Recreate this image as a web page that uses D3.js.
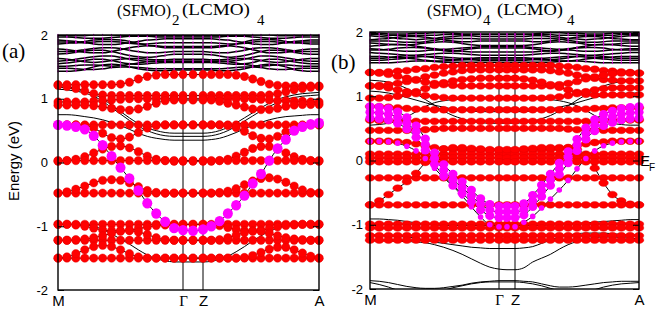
<!DOCTYPE html>
<html>
<head>
<meta charset="utf-8">
<script src="https://d3js.org/d3.v7.min.js"></script>
<style>
  body { margin: 0; background: #fff; }
  svg { display: block; }
</style>
</head>
<body>
<svg id="chart" width="667" height="314"></svg>
<script>
// k-point index along the path M -> Γ (14 steps) -> Z (2 steps) -> A (14 steps)
var kTickIdx = [0, 14, 16, 30];
var kTickLabels = ["M", "\u0393", "Z", "A"];
var eTicks = [2, 1, 0, -1, -2];

// ---------- panel (a): (SFMO)2(LCMO)4 ----------
var aTopBands = [
  [2.0,1.99,1.99,1.99,2.0,2.0,2.0,1.99,1.99,1.99, 1.99,1.99,1.99,1.99,1.99,1.99,1.99,1.99,1.99,1.99, 1.99,1.99,2.0,2.0,2.0,1.99,1.99,1.99,1.99,2.0,2.0],
  [1.97,1.97,1.96,1.95,1.95,1.95,1.96,1.97,1.98,1.98, 1.98,1.97,1.97,1.97,1.97,1.97,1.97,1.97,1.97,1.98, 1.98,1.98,1.97,1.96,1.95,1.95,1.95,1.96,1.97,1.97,1.97],
  [1.92,1.91,1.9,1.88,1.86,1.85,1.85,1.86,1.88,1.9, 1.92,1.93,1.94,1.94,1.94,1.94,1.94,1.94,1.93,1.92, 1.9,1.88,1.86,1.85,1.85,1.86,1.88,1.9,1.91,1.92,1.92],
  [1.89,1.89,1.88,1.88,1.89,1.9,1.9,1.89,1.87,1.86, 1.86,1.87,1.88,1.88,1.88,1.88,1.88,1.88,1.87,1.86, 1.86,1.87,1.89,1.9,1.9,1.89,1.88,1.88,1.89,1.89,1.89],
  [1.86,1.87,1.88,1.9,1.92,1.93,1.93,1.92,1.9,1.87, 1.84,1.82,1.8,1.8,1.8,1.8,1.8,1.8,1.81,1.83, 1.86,1.89,1.92,1.93,1.93,1.92,1.9,1.88,1.87,1.86,1.86],
  [1.78,1.77,1.75,1.73,1.72,1.72,1.74,1.77,1.8,1.82, 1.83,1.83,1.82,1.82,1.82,1.82,1.82,1.82,1.83,1.83, 1.82,1.8,1.77,1.74,1.72,1.72,1.73,1.75,1.77,1.78,1.78],
  [1.74,1.74,1.75,1.77,1.79,1.8,1.8,1.79,1.76,1.74, 1.72,1.72,1.73,1.74,1.74,1.74,1.74,1.73,1.72,1.72, 1.74,1.76,1.79,1.8,1.8,1.79,1.77,1.75,1.74,1.74,1.74],
  [1.7,1.71,1.73,1.75,1.76,1.76,1.74,1.71,1.68,1.66, 1.65,1.66,1.68,1.7,1.7,1.7,1.7,1.69,1.67,1.65, 1.66,1.68,1.71,1.74,1.76,1.76,1.75,1.73,1.71,1.7,1.7],
  [1.63,1.62,1.6,1.58,1.57,1.58,1.6,1.62,1.63,1.63, 1.62,1.61,1.61,1.62,1.62,1.62,1.62,1.61,1.61,1.62, 1.63,1.63,1.62,1.6,1.58,1.57,1.58,1.6,1.62,1.63,1.63],
  [1.59,1.6,1.62,1.64,1.66,1.67,1.67,1.65,1.62,1.6, 1.59,1.59,1.59,1.59,1.59,1.59,1.59,1.59,1.59,1.59, 1.6,1.62,1.65,1.67,1.67,1.66,1.64,1.62,1.6,1.59,1.59],
  [1.55,1.56,1.58,1.6,1.62,1.62,1.6,1.57,1.55,1.54, 1.55,1.56,1.57,1.57,1.57,1.57,1.57,1.57,1.56,1.55, 1.54,1.55,1.57,1.6,1.62,1.62,1.6,1.58,1.56,1.55,1.55],
  [1.51,1.51,1.52,1.53,1.53,1.52,1.51,1.52,1.54,1.56, 1.58,1.59,1.59,1.59,1.59,1.59,1.59,1.59,1.59,1.58, 1.56,1.54,1.52,1.51,1.52,1.53,1.53,1.52,1.51,1.51,1.51],
  [1.48,1.48,1.47,1.46,1.46,1.47,1.49,1.5,1.5,1.49, 1.48,1.47,1.47,1.47,1.47,1.47,1.47,1.47,1.47,1.48, 1.49,1.5,1.5,1.49,1.47,1.46,1.46,1.47,1.48,1.48,1.48],
  [1.43,1.43,1.44,1.46,1.5,1.53,1.54,1.53,1.5,1.47, 1.45,1.44,1.44,1.45,1.45,1.45,1.45,1.45,1.44,1.44, 1.45,1.47,1.5,1.53,1.54,1.53,1.5,1.46,1.44,1.43,1.43]
];
var aLineBands = [
  [1.18,1.17,1.15,1.12,1.07,1.0,0.9,0.8,0.7,0.61, 0.54,0.5,0.47,0.46,0.46,0.46,0.46,0.47,0.5,0.55, 0.62,0.7,0.78,0.86,0.93,0.99,1.03,1.06,1.08,1.09,1.1],
  [1.15,1.14,1.12,1.09,1.04,0.96,0.86,0.76,0.66,0.57, 0.5,0.45,0.42,0.41,0.41,0.41,0.41,0.42,0.45,0.5, 0.57,0.65,0.73,0.81,0.88,0.94,0.99,1.02,1.04,1.05,1.06],
  [0.75,0.75,0.74,0.72,0.7,0.67,0.63,0.58,0.52,0.46, 0.41,0.38,0.36,0.35,0.35,0.35,0.35,0.36,0.38,0.42, 0.47,0.53,0.58,0.63,0.67,0.7,0.72,0.73,0.74,0.75,0.75],
  [-0.97,-0.97,-0.97,-0.98,-1.0,-1.05,-1.12,-1.2,-1.28,-1.37, -1.45,-1.51,-1.54,-1.56,-1.56,-1.56,-1.56,-1.55,-1.52,-1.47, -1.4,-1.32,-1.23,-1.15,-1.08,-1.03,-1.0,-0.98,-0.98,-0.98,-0.98]
];
var aRedBands = [
  [1.22,1.22,1.22,1.22,1.22,1.22,1.22,1.23,1.26,1.31, 1.35,1.37,1.38,1.38,1.38,1.38,1.38,1.38,1.38,1.38, 1.37,1.35,1.31,1.27,1.23,1.21,1.2,1.2,1.2,1.2,1.2],
  [1.21,1.19,1.16,1.12,1.08,1.06,1.05,1.05,1.05,1.05, 1.05,1.05,1.05,1.05,1.05,1.05,1.05,1.05,1.05,1.05, 1.05,1.05,1.05,1.05,1.06,1.08,1.11,1.14,1.16,1.18,1.19],
  [0.95,0.95,0.95,0.95,0.96,0.97,0.98,0.99,1.0,1.0, 1.0,1.0,1.0,1.0,1.0,1.0,1.0,1.0,1.0,1.0, 1.0,1.0,1.0,0.99,0.98,0.97,0.97,0.96,0.96,0.95,0.95],
  [0.9,0.9,0.9,0.9,0.89,0.87,0.85,0.83,0.82,0.84, 0.88,0.93,0.97,0.98,0.98,0.98,0.98,0.98,0.96,0.93, 0.9,0.87,0.84,0.83,0.83,0.85,0.88,0.9,0.91,0.91,0.91],
  [0.59,0.59,0.59,0.59,0.59,0.59,0.59,0.59,0.59,0.59, 0.59,0.59,0.59,0.59,0.59,0.59,0.59,0.59,0.59,0.59, 0.59,0.59,0.59,0.59,0.59,0.59,0.59,0.59,0.59,0.59,0.59],
  [0.59,0.59,0.59,0.58,0.54,0.46,0.39,0.37,0.4,0.47, 0.54,0.58,0.59,0.59,0.59,0.59,0.59,0.59,0.59,0.58, 0.55,0.49,0.42,0.38,0.37,0.41,0.48,0.55,0.58,0.59,0.59],
  [0.02,0.03,0.05,0.09,0.15,0.21,0.25,0.26,0.23,0.17, 0.1,0.05,0.03,0.02,0.02,0.02,0.02,0.02,0.03,0.05, 0.1,0.16,0.22,0.25,0.25,0.21,0.15,0.09,0.05,0.03,0.02],
  [0.03,0.03,0.03,0.03,0.03,0.03,0.03,0.03,0.03,0.03, 0.03,0.03,0.03,0.03,0.03,0.03,0.03,0.03,0.03,0.03, 0.03,0.03,0.03,0.03,0.03,0.03,0.03,0.03,0.03,0.03,0.03],
  [-0.48,-0.48,-0.48,-0.48,-0.48,-0.48,-0.48,-0.48,-0.48,-0.48, -0.48,-0.48,-0.48,-0.48,-0.48,-0.48,-0.48,-0.48,-0.48,-0.48, -0.48,-0.48,-0.48,-0.48,-0.48,-0.48,-0.48,-0.48,-0.48,-0.48,-0.48],
  [-0.48,-0.46,-0.42,-0.37,-0.32,-0.28,-0.27,-0.28,-0.32,-0.38, -0.44,-0.47,-0.48,-0.48,-0.48,-0.48,-0.48,-0.48,-0.47,-0.45, -0.41,-0.35,-0.29,-0.25,-0.24,-0.26,-0.31,-0.37,-0.43,-0.47,-0.48],
  [-0.97,-0.97,-0.97,-0.97,-0.97,-0.97,-0.97,-0.97,-0.97,-0.97, -0.97,-0.97,-0.97,-0.97,-0.97,-0.97,-0.97,-0.97,-0.97,-0.97, -0.97,-0.97,-0.97,-0.97,-0.97,-0.97,-0.97,-0.97,-0.97,-0.97,-0.97],
  [-0.97,-0.97,-0.98,-1.0,-1.03,-1.06,-1.07,-1.07,-1.06,-1.04, -1.01,-0.99,-0.98,-0.97,-0.97,-0.97,-0.97,-0.98,-0.99,-1.02, -1.05,-1.07,-1.07,-1.06,-1.04,-1.01,-0.99,-0.98,-0.97,-0.97,-0.97],
  [-1.22,-1.22,-1.22,-1.22,-1.22,-1.22,-1.22,-1.22,-1.22,-1.22, -1.22,-1.22,-1.22,-1.22,-1.22,-1.22,-1.22,-1.22,-1.22,-1.22, -1.22,-1.22,-1.22,-1.22,-1.22,-1.22,-1.22,-1.22,-1.22,-1.22,-1.22],
  [-1.22,-1.22,-1.21,-1.2,-1.18,-1.15,-1.11,-1.08,-1.07,-1.09, -1.13,-1.18,-1.21,-1.22,-1.22,-1.22,-1.22,-1.22,-1.21,-1.18, -1.14,-1.1,-1.08,-1.08,-1.11,-1.15,-1.18,-1.2,-1.21,-1.22,-1.22],
  [-1.5,-1.5,-1.5,-1.5,-1.5,-1.5,-1.5,-1.5,-1.5,-1.5, -1.5,-1.5,-1.5,-1.5,-1.5,-1.5,-1.5,-1.5,-1.5,-1.5, -1.5,-1.5,-1.5,-1.5,-1.5,-1.5,-1.5,-1.5,-1.5,-1.5,-1.5],
  [-1.5,-1.48,-1.43,-1.37,-1.32,-1.3,-1.32,-1.37,-1.43,-1.48, -1.5,-1.5,-1.5,-1.5,-1.5,-1.5,-1.5,-1.5,-1.5,-1.5, -1.5,-1.49,-1.46,-1.41,-1.36,-1.33,-1.33,-1.37,-1.42,-1.47,-1.5]
];
var aMagBands = [
  [0.59,0.58,0.56,0.52,0.42,0.27,0.1,-0.08,-0.25,-0.44, -0.64,-0.8,-0.93,-1.03,-1.06,-1.07,-1.05,-1.0,-0.92,-0.8, -0.67,-0.52,-0.33,-0.18,0.03,0.22,0.36,0.5,0.56,0.6,0.62]
];
var aMagThinBands = [];

// ---------- panel (b): (SFMO)4(LCMO)4 ----------
var bTopBands = [
  [1.98,1.98,1.97,1.97,1.97,1.98,1.98,1.99,1.99,1.98, 1.97,1.97,1.97,1.97,1.97,1.97,1.97,1.97,1.97,1.98, 1.99,1.99,1.98,1.98,1.97,1.97,1.97,1.98,1.98,1.98,1.98],
  [1.96,1.96,1.95,1.95,1.95,1.95,1.95,1.95,1.96,1.96, 1.96,1.96,1.96,1.96,1.96,1.96,1.96,1.96,1.96,1.96, 1.96,1.95,1.95,1.95,1.95,1.95,1.95,1.95,1.96,1.96,1.96],
  [1.94,1.93,1.92,1.9,1.89,1.88,1.89,1.9,1.92,1.93, 1.94,1.94,1.93,1.93,1.93,1.93,1.93,1.93,1.94,1.94, 1.93,1.92,1.9,1.89,1.88,1.89,1.9,1.92,1.93,1.94,1.94],
  [1.88,1.89,1.9,1.92,1.93,1.93,1.92,1.9,1.88,1.86, 1.85,1.85,1.86,1.86,1.86,1.86,1.86,1.86,1.85,1.85, 1.86,1.88,1.9,1.92,1.93,1.93,1.92,1.9,1.89,1.88,1.88],
  [1.86,1.86,1.86,1.85,1.84,1.84,1.85,1.87,1.89,1.9, 1.9,1.9,1.89,1.89,1.89,1.89,1.89,1.89,1.9,1.9, 1.9,1.89,1.87,1.85,1.84,1.84,1.85,1.86,1.86,1.86,1.86],
  [1.83,1.82,1.81,1.8,1.8,1.81,1.83,1.84,1.85,1.84, 1.82,1.8,1.79,1.79,1.79,1.79,1.79,1.79,1.8,1.82, 1.84,1.85,1.84,1.83,1.81,1.8,1.8,1.81,1.82,1.83,1.83],
  [1.78,1.79,1.8,1.81,1.8,1.78,1.76,1.74,1.73,1.74, 1.75,1.76,1.77,1.77,1.77,1.77,1.77,1.77,1.76,1.75, 1.74,1.73,1.74,1.76,1.78,1.8,1.81,1.8,1.79,1.78,1.78],
  [1.74,1.73,1.72,1.71,1.7,1.7,1.71,1.72,1.72,1.71, 1.7,1.69,1.69,1.69,1.69,1.69,1.69,1.69,1.69,1.7, 1.71,1.72,1.72,1.71,1.7,1.7,1.71,1.72,1.73,1.74,1.74],
  [1.72,1.72,1.73,1.75,1.76,1.76,1.75,1.73,1.71,1.7, 1.72,1.74,1.75,1.75,1.75,1.75,1.75,1.75,1.74,1.72, 1.7,1.71,1.73,1.75,1.76,1.76,1.75,1.73,1.72,1.72,1.72],
  [1.68,1.67,1.66,1.65,1.64,1.64,1.65,1.66,1.67,1.67, 1.66,1.65,1.64,1.64,1.64,1.64,1.64,1.64,1.65,1.66, 1.67,1.67,1.66,1.65,1.64,1.64,1.65,1.66,1.67,1.68,1.68],
  [1.62,1.62,1.61,1.6,1.6,1.61,1.62,1.62,1.61,1.6, 1.59,1.59,1.6,1.6,1.6,1.6,1.6,1.6,1.59,1.59, 1.6,1.61,1.62,1.62,1.61,1.6,1.6,1.61,1.62,1.62,1.62],
  [1.59,1.59,1.6,1.62,1.63,1.63,1.62,1.6,1.58,1.57, 1.57,1.58,1.58,1.58,1.58,1.58,1.58,1.58,1.58,1.57, 1.57,1.58,1.6,1.62,1.63,1.63,1.62,1.6,1.59,1.59,1.59],
  [1.56,1.56,1.57,1.58,1.59,1.58,1.56,1.55,1.55,1.56, 1.57,1.57,1.56,1.56,1.56,1.56,1.56,1.56,1.57,1.57, 1.56,1.55,1.55,1.56,1.58,1.59,1.58,1.57,1.56,1.56,1.56],
  [1.52,1.52,1.52,1.53,1.54,1.55,1.55,1.54,1.53,1.53, 1.53,1.53,1.53,1.53,1.53,1.53,1.53,1.53,1.53,1.53, 1.53,1.54,1.55,1.55,1.54,1.53,1.52,1.52,1.52,1.52,1.52]
];
var bLineBands = [
  [1.25,1.24,1.22,1.18,1.12,1.04,0.95,0.86,0.77,0.7, 0.65,0.61,0.59,0.58,0.58,0.58,0.58,0.59,0.61,0.65, 0.7,0.77,0.85,0.94,1.02,1.1,1.16,1.2,1.23,1.24,1.25],
  [1.08,1.07,1.05,1.02,0.98,0.94,0.9,0.86,0.83,0.8, 0.78,0.77,0.76,0.76,0.76,0.76,0.76,0.76,0.77,0.78, 0.8,0.83,0.86,0.9,0.94,0.98,1.01,1.03,1.04,1.05,1.05],
  [0.55,0.56,0.58,0.62,0.68,0.76,0.84,0.9,0.93,0.95, 0.96,0.97,0.97,0.97,0.97,0.97,0.97,0.97,0.97,0.96, 0.95,0.93,0.9,0.85,0.78,0.7,0.63,0.58,0.56,0.55,0.55],
  [-0.91,-0.91,-0.92,-0.93,-0.95,-0.97,-0.99,-1.0,-1.01,-1.01, -1.01,-1.01,-1.01,-1.01,-1.01,-1.01,-1.01,-1.01,-1.01,-1.01, -1.0,-1.0,-0.99,-0.98,-0.97,-0.96,-0.95,-0.94,-0.93,-0.92,-0.92],
  [-1.16,-1.16,-1.17,-1.18,-1.19,-1.21,-1.24,-1.27,-1.29,-1.31, -1.33,-1.35,-1.36,-1.37,-1.37,-1.37,-1.37,-1.36,-1.34,-1.29, -1.24,-1.19,-1.16,-1.14,-1.13,-1.13,-1.13,-1.14,-1.15,-1.16,-1.16],
  [-1.25,-1.25,-1.25,-1.26,-1.26,-1.27,-1.28,-1.31,-1.35,-1.4, -1.46,-1.53,-1.6,-1.66,-1.69,-1.7,-1.7,-1.67,-1.58,-1.52, -1.46,-1.38,-1.31,-1.26,-1.22,-1.2,-1.19,-1.19,-1.2,-1.21,-1.22],
  [-1.87,-1.88,-1.9,-1.93,-1.96,-1.98,-1.99,-1.99,-1.98,-1.96, -1.94,-1.91,-1.89,-1.88,-1.87,-1.87,-1.87,-1.88,-1.89,-1.92, -1.95,-1.97,-1.97,-1.96,-1.94,-1.92,-1.9,-1.89,-1.88,-1.88,-1.88],
  [-1.9,-1.93,-1.97,-2.02,-2.06,-2.08,-2.08,-2.06,-2.02,-1.98, -1.95,-1.92,-1.9,-1.89,-1.89,-1.89,-1.89,-1.9,-1.92,-1.95, -1.99,-2.03,-2.06,-2.07,-2.05,-2.01,-1.97,-1.94,-1.92,-1.91,-1.9]
];
var bRedBands = [
  [1.37,1.37,1.38,1.39,1.4,1.42,1.43,1.45,1.46,1.47, 1.48,1.48,1.48,1.48,1.48,1.48,1.48,1.48,1.48,1.48, 1.48,1.47,1.46,1.45,1.43,1.42,1.4,1.39,1.38,1.37,1.36],
  [1.16,1.17,1.18,1.2,1.23,1.26,1.3,1.33,1.36,1.38, 1.4,1.41,1.41,1.41,1.41,1.41,1.41,1.41,1.41,1.41, 1.4,1.38,1.36,1.33,1.3,1.28,1.26,1.25,1.24,1.24,1.24],
  [1.37,1.36,1.34,1.31,1.28,1.25,1.22,1.2,1.18,1.17, 1.16,1.16,1.16,1.16,1.16,1.16,1.16,1.16,1.16,1.16, 1.16,1.18,1.2,1.23,1.27,1.3,1.33,1.35,1.36,1.36,1.36],
  [0.97,0.97,0.98,1.0,1.03,1.07,1.12,1.17,1.21,1.24, 1.26,1.27,1.28,1.28,1.28,1.28,1.28,1.27,1.25,1.22, 1.18,1.14,1.1,1.06,1.03,1.02,1.02,1.02,1.02,1.02,1.02],
  [1.16,1.15,1.13,1.1,1.07,1.04,1.01,0.99,0.98,0.97, 0.97,0.97,0.97,0.97,0.97,0.97,0.97,0.97,0.97,0.97, 0.98,0.99,1.01,1.04,1.07,1.1,1.12,1.13,1.13,1.13,1.13],
  [0.84,0.84,0.83,0.82,0.81,0.8,0.8,0.79,0.79,0.79, 0.79,0.79,0.79,0.79,0.79,0.79,0.79,0.79,0.79,0.79, 0.79,0.79,0.79,0.8,0.8,0.81,0.81,0.82,0.82,0.82,0.82],
  [0.63,0.62,0.62,0.61,0.61,0.61,0.61,0.61,0.61,0.61, 0.61,0.61,0.61,0.61,0.61,0.61,0.61,0.61,0.61,0.61, 0.61,0.61,0.61,0.61,0.61,0.61,0.62,0.62,0.63,0.63,0.63],
  [0.47,0.47,0.47,0.47,0.47,0.48,0.48,0.49,0.5,0.5, 0.5,0.5,0.5,0.5,0.5,0.5,0.5,0.5,0.5,0.5, 0.5,0.5,0.49,0.48,0.48,0.47,0.47,0.47,0.47,0.47,0.47],
  [0.3,0.3,0.3,0.29,0.28,0.26,0.23,0.2,0.18,0.17, 0.16,0.16,0.16,0.16,0.16,0.16,0.16,0.16,0.16,0.16, 0.17,0.18,0.2,0.23,0.26,0.28,0.29,0.3,0.3,0.3,0.3],
  [0.1,0.1,0.1,0.1,0.1,0.1,0.1,0.1,0.1,0.1, 0.1,0.1,0.1,0.1,0.1,0.1,0.1,0.1,0.1,0.1, 0.1,0.1,0.1,0.1,0.1,0.1,0.1,0.1,0.1,0.1,0.1],
  [0.04,0.04,0.04,0.04,0.04,0.04,0.04,0.04,0.04,0.04, 0.04,0.04,0.04,0.04,0.04,0.04,0.04,0.04,0.04,0.04, 0.04,0.04,0.04,0.04,0.04,0.04,0.04,0.04,0.04,0.04,0.04],
  [-0.02,-0.02,-0.02,-0.02,-0.02,-0.02,-0.02,-0.02,-0.02,-0.02, -0.02,-0.02,-0.02,-0.02,-0.02,-0.02,-0.02,-0.02,-0.02,-0.02, -0.02,-0.02,-0.02,-0.02,-0.02,-0.02,-0.02,-0.02,-0.02,-0.02,-0.02],
  [-0.27,-0.27,-0.27,-0.27,-0.27,-0.27,-0.27,-0.27,-0.27,-0.27, -0.27,-0.27,-0.27,-0.27,-0.27,-0.27,-0.27,-0.27,-0.27,-0.27, -0.27,-0.27,-0.27,-0.27,-0.27,-0.27,-0.27,-0.27,-0.27,-0.27,-0.27],
  [-0.69,-0.63,-0.53,-0.43,-0.33,-0.2,-0.03,0.1,0.18,0.2, 0.2,0.19,0.18,0.17,0.17,0.17,0.17,0.18,0.19,0.2, 0.2,0.2,0.2,0.17,0.08,-0.12,-0.35,-0.53,-0.63,-0.68,-0.69],
  [-0.69,-0.69,-0.69,-0.69,-0.69,-0.69,-0.69,-0.69,-0.69,-0.69, -0.69,-0.69,-0.69,-0.69,-0.69,-0.69,-0.69,-0.69,-0.69,-0.69, -0.69,-0.69,-0.69,-0.69,-0.69,-0.69,-0.69,-0.69,-0.69,-0.69,-0.69],
  [-0.99,-0.99,-0.99,-0.99,-0.99,-0.99,-0.99,-0.99,-0.99,-0.99, -0.99,-0.99,-0.99,-0.99,-0.99,-0.99,-0.99,-0.99,-0.99,-0.99, -0.99,-0.99,-0.99,-0.99,-0.99,-0.99,-0.99,-0.99,-0.99,-0.99,-0.99],
  [-1.05,-1.05,-1.05,-1.05,-1.05,-1.05,-1.05,-1.05,-1.05,-1.05, -1.05,-1.05,-1.05,-1.05,-1.05,-1.05,-1.05,-1.05,-1.05,-1.05, -1.05,-1.05,-1.05,-1.05,-1.05,-1.05,-1.05,-1.05,-1.05,-1.05,-1.05],
  [-1.17,-1.17,-1.17,-1.17,-1.17,-1.17,-1.17,-1.17,-1.17,-1.17, -1.17,-1.17,-1.17,-1.17,-1.17,-1.17,-1.17,-1.17,-1.17,-1.17, -1.17,-1.17,-1.17,-1.17,-1.17,-1.17,-1.17,-1.17,-1.17,-1.17,-1.17],
  [-1.24,-1.24,-1.24,-1.24,-1.24,-1.24,-1.24,-1.24,-1.24,-1.24, -1.24,-1.24,-1.24,-1.24,-1.24,-1.24,-1.24,-1.24,-1.24,-1.24, -1.24,-1.24,-1.24,-1.24,-1.24,-1.24,-1.24,-1.24,-1.24,-1.24,-1.24]
];
var bMagBands = [
  [0.84,0.83,0.81,0.76,0.67,0.54,0.34,0.12,-0.06,-0.21, -0.33,-0.46,-0.59,-0.68,-0.71,-0.71,-0.71,-0.67,-0.54,-0.38, -0.21,-0.04,0.14,0.33,0.51,0.64,0.72,0.77,0.81,0.83,0.84],
  [0.75,0.74,0.72,0.67,0.58,0.45,0.25,0.03,-0.15,-0.3, -0.42,-0.55,-0.68,-0.77,-0.8,-0.8,-0.8,-0.76,-0.63,-0.47, -0.3,-0.13,0.05,0.24,0.42,0.55,0.63,0.68,0.72,0.74,0.75],
  [0.66,0.65,0.63,0.58,0.49,0.36,0.16,-0.06,-0.24,-0.39, -0.51,-0.64,-0.77,-0.86,-0.89,-0.89,-0.89,-0.85,-0.72,-0.56, -0.39,-0.22,-0.04,0.15,0.33,0.46,0.54,0.59,0.63,0.65,0.66]
];
var bMagThinBands = [
  [0.3,0.3,0.29,0.27,0.22,0.15,0.03,-0.12,-0.27,-0.4, -0.55,-0.72,-0.88,-1.0,-1.03,-1.03,-1.03,-0.96,-0.87,-0.74, -0.6,-0.46,-0.31,-0.13,0.03,0.15,0.23,0.27,0.29,0.3,0.3]
];

var svg = d3.select('#chart');
var serif = '"Liberation Serif", "Times New Roman", serif';
var sans = '"Liberation Sans", Arial, sans-serif';

function drawPanel(box, data, id) {
  var x = d3.scaleLinear().domain(kTickIdx).range([box.left, box.g, box.z, box.right]);
  var y = d3.scaleLinear().domain([-2, 2]).range([box.bottom, box.top]);

  svg.append('clipPath').attr('id', id)
    .append('rect')
    .attr('x', box.left).attr('y', box.top)
    .attr('width', box.right - box.left).attr('height', box.bottom - box.top);

  var line = d3.line()
    .x(function(d, i) { return x(i); })
    .y(function(d) { return y(d); })
    .curve(d3.curveMonotoneX);

  var lines = svg.append('g').attr('clip-path', 'url(#' + id + ')');

  // dense upper manifold
  lines.selectAll('path.top').data(data.top).enter().append('path')
    .attr('class', 'top').attr('d', line)
    .attr('fill', 'none').attr('stroke', '#000').attr('stroke-width', 1.5);

  // plain bands and the bands under the fat markers
  lines.selectAll('path.band')
    .data(data.lines.concat(data.red, data.mag, data.magThin))
    .enter().append('path')
    .attr('class', 'band').attr('d', line)
    .attr('fill', 'none').attr('stroke', '#000').attr('stroke-width', 1);

  // high-symmetry verticals
  lines.selectAll('line.sym').data([14, 16]).enter().append('line')
    .attr('x1', function(d) { return x(d); }).attr('x2', function(d) { return x(d); })
    .attr('y1', box.top).attr('y2', box.bottom)
    .attr('stroke', '#000').attr('stroke-width', 1);

  // tiny magenta weights on the upper manifold
  var tiny = svg.append('g');
  data.top.forEach(function(b) {
    tiny.selectAll(null).data(b).enter().append('ellipse')
      .attr('cx', function(d, i) { return x(i); })
      .attr('cy', function(d) { return y(d); })
      .attr('rx', 0.6).attr('ry', 1.3)
      .attr('fill', '#d000d0');
  });

  var dots = svg.append('g');
  data.red.forEach(function(b) {
    dots.selectAll(null).data(b).enter().append('ellipse')
      .attr('cx', function(d, i) { return x(i); })
      .attr('cy', function(d) { return y(d); })
      .attr('rx', box.redRx).attr('ry', box.redRy)
      .attr('fill', '#ff0000').attr('stroke', '#e00000').attr('stroke-width', 0.4);
  });
  data.magThin.forEach(function(b) {
    dots.selectAll(null).data(b).enter().append('circle')
      .attr('cx', function(d, i) { return x(i); })
      .attr('cy', function(d) { return y(d); })
      .attr('r', 2.8)
      .attr('fill', '#ff00ff');
  });
  data.mag.forEach(function(b) {
    dots.selectAll(null).data(b).enter().append('ellipse')
      .attr('cx', function(d, i) { return x(i); })
      .attr('cy', function(d) { return y(d); })
      .attr('rx', box.magRx).attr('ry', box.magRy)
      .attr('fill', '#ff00ff');
  });

  // frame
  svg.append('rect')
    .attr('x', box.left).attr('y', box.top)
    .attr('width', box.right - box.left).attr('height', box.bottom - box.top)
    .attr('fill', 'none').attr('stroke', '#000').attr('stroke-width', 1.4);

  // energy axis (inward ticks)
  var yAxis = svg.append('g')
    .attr('transform', 'translate(' + box.left + ',0)')
    .call(d3.axisLeft(y).tickValues(eTicks).tickSizeInner(-6).tickSizeOuter(0).tickPadding(box.tickPad)
      .tickFormat(function(d) { return String(d); }));
  yAxis.select('.domain').remove();
  yAxis.selectAll('text').attr('font-family', sans).attr('font-size', 13).attr('fill', '#000');
  var yAxisR = svg.append('g')
    .attr('transform', 'translate(' + box.right + ',0)')
    .call(d3.axisRight(y).tickValues(eTicks).tickSizeInner(-6).tickSizeOuter(0).tickFormat(''));
  yAxisR.select('.domain').remove();

  // k-path labels
  var xAxis = svg.append('g')
    .attr('transform', 'translate(0,' + box.bottom + ')')
    .call(d3.axisBottom(x).tickValues(kTickIdx).tickSize(0).tickPadding(5)
      .tickFormat(function(d, i) { return kTickLabels[i]; }));
  xAxis.select('.domain').remove();
  xAxis.selectAll('text')
    .attr('font-family', function(d, i) { return i === 1 ? serif : sans; })
    .attr('font-size', 15).attr('fill', '#000');
}

drawPanel({left: 58, g: 183, z: 203, right: 319, top: 35, bottom: 290,
           redRx: 4.2, redRy: 4.2, magRx: 5, magRy: 5.2, tickPad: 10},
          {top: aTopBands, lines: aLineBands, red: aRedBands, mag: aMagBands, magThin: aMagThinBands}, 'clipA');
drawPanel({left: 370, g: 499, z: 515, right: 639, top: 32, bottom: 289,
           redRx: 4.8, redRy: 3.4, magRx: 4.6, magRy: 4.2, tickPad: 7},
          {top: bTopBands, lines: bLineBands, red: bRedBands, mag: bMagBands, magThin: bMagThinBands}, 'clipB');

// titles: [text, x, baseline, size, width]
function title(parts) {
  var t = svg.append('text').attr('font-family', serif).attr('fill', '#000');
  parts.forEach(function(p) {
    var s = t.append('tspan').attr('x', p[1]).attr('y', p[2]).attr('font-size', p[3]).text(p[0]);
    if (p[4]) s.attr('textLength', p[4]).attr('lengthAdjust', 'spacingAndGlyphs');
  });
}
title([["(SFMO)", 117, 16, 16, 54], ["2", 172, 25, 15], ["(LCMO)", 182, 15, 16, 68], ["4", 257, 25, 15]]);
title([["(SFMO)", 427, 16, 16, 55], ["4", 483, 25, 15], ["(LCMO)", 497, 15, 16, 66], ["4", 567, 25, 15]]);

svg.append('text').attr('x', 2).attr('y', 58).attr('font-family', serif).attr('font-size', 21).text('(a)');
svg.append('text').attr('x', 331).attr('y', 69).attr('font-family', serif).attr('font-size', 21).text('(b)');

svg.append('text')
  .attr('transform', 'translate(19,161) rotate(-90)')
  .attr('text-anchor', 'middle')
  .attr('font-family', sans).attr('font-size', 15).text('Energy (eV)');

var ef = svg.append('text').attr('font-family', sans).attr('fill', '#000');
ef.append('tspan').attr('x', 640).attr('y', 166).attr('font-size', 15).text('E');
ef.append('tspan').attr('x', 649).attr('y', 171).attr('font-size', 10).text('F');
</script>
</body>
</html>
